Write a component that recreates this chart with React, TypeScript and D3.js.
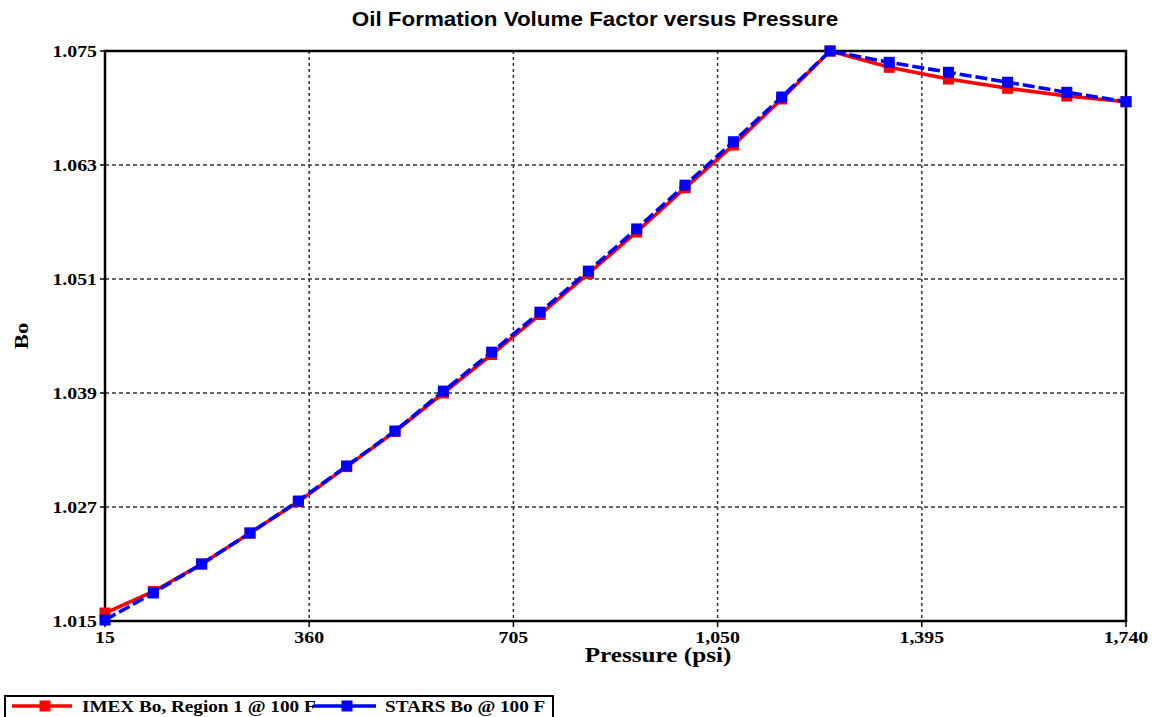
import React from "react";
import * as d3 from "d3";

// Pressure steps (psi) and formation volume factors for the two simulators
const pressure = [15, 96.7, 178.3, 260, 341.7, 423.3, 505, 586.7, 668.3, 750, 831.7, 913.3, 995, 1076.7, 1158.3, 1240, 1340, 1440, 1540, 1640, 1740];
const imexBo = [1.01584, 1.01811, 1.021, 1.02426, 1.02755, 1.03125, 1.03495, 1.039, 1.04305, 1.04726, 1.05158, 1.05595, 1.0606, 1.0651, 1.06995, 1.075, 1.07328, 1.07205, 1.07107, 1.07026, 1.06966];
const starsBo = [1.0151, 1.01795, 1.021, 1.02426, 1.02763, 1.03132, 1.035, 1.0392, 1.0433, 1.04751, 1.05183, 1.05627, 1.06088, 1.06545, 1.07016, 1.075, 1.07381, 1.07276, 1.07171, 1.07065, 1.06966];

const xTicks = [15, 360, 705, 1050, 1395, 1740];
const yTicks = [1.015, 1.027, 1.039, 1.051, 1.063, 1.075];

const seriesNames = ["IMEX Bo, Region 1 @ 100 F", "STARS Bo @ 100 F"];

const W = 1164;
const H = 717;
const left = 105, right = 1126, top = 51, bottom = 621;
const SERIF = "'Liberation Serif', 'Times New Roman', serif";
const SANS = "'Liberation Sans', Arial, sans-serif";
const SX = 1.2; // horizontal stretch applied to serif labels

function Label({ x, y, anchor = "start", size, children, rotate = 0 }: any) {
  return (
    <text
      transform={`translate(${x},${y}) rotate(${rotate}) scale(${SX},1)`}
      textAnchor={anchor}
      fontFamily={SERIF}
      fontWeight="bold"
      fontSize={size}
      fill="#000"
    >
      {children}
    </text>
  );
}

export default function App() {
  const x = d3.scaleLinear().domain([15, 1740]).range([left, right]);
  const y = d3.scaleLinear().domain([1.015, 1.075]).range([bottom, top]);
  const fmtX = d3.format(",");
  const fmtY = d3.format(".3f");

  const line = (vals: number[]) =>
    d3.line<number>().x((_, i) => x(pressure[i])).y((v) => y(v))(vals) || "";

  const ms = 11;

  return (
    <svg width={W} height={H} style={{ position: "absolute", left: 0, top: 0, background: "#fff" }}>
      <rect x={0} y={0} width={W} height={H} fill="#fff" />
      <text
        transform="translate(595,26) scale(1.15,1)"
        textAnchor="middle"
        fontFamily={SANS}
        fontWeight="bold"
        fontSize={19.5}
      >
        Oil Formation Volume Factor versus Pressure
      </text>

      {/* grid */}
      {xTicks.slice(1, -1).map((t) => (
        <line key={"gx" + t} x1={x(t)} x2={x(t)} y1={top} y2={bottom} stroke="#333" strokeWidth={1.5} strokeDasharray="3,3" />
      ))}
      {yTicks.slice(1, -1).map((t) => (
        <line key={"gy" + t} x1={left} x2={right} y1={y(t)} y2={y(t)} stroke="#333" strokeWidth={1.5} strokeDasharray="4,3" />
      ))}

      {/* ticks */}
      {xTicks.map((t) => (
        <line key={"tx" + t} x1={x(t)} x2={x(t)} y1={bottom} y2={bottom + 6} stroke="#000" strokeWidth={1.5} />
      ))}
      {yTicks.map((t) => (
        <line key={"ty" + t} x1={left - 5} x2={left} y1={y(t)} y2={y(t)} stroke="#000" strokeWidth={1.5} />
      ))}

      {/* frame */}
      <rect x={left} y={top} width={right - left} height={bottom - top} fill="none" stroke="#000" strokeWidth={2.5} />

      {/* tick labels */}
      {xTicks.map((t) => (
        <Label key={"lx" + t} x={x(t)} y={643} anchor="middle" size={16.5}>
          {fmtX(t)}
        </Label>
      ))}
      {yTicks.map((t) => (
        <Label key={"ly" + t} x={97} y={y(t) + 6} anchor="end" size={16.5}>
          {fmtY(t)}
        </Label>
      ))}

      <Label x={658} y={662} anchor="middle" size={21}>
        Pressure (psi)
      </Label>
      <Label x={28} y={336} anchor="middle" size={19} rotate={-90}>
        Bo
      </Label>

      {/* IMEX series */}
      <path d={line(imexBo)} fill="none" stroke="#ff0000" strokeWidth={3.6} />
      {imexBo.map((v, i) => (
        <rect key={"r" + i} x={x(pressure[i]) - ms / 2} y={y(v) - ms / 2} width={ms} height={ms} fill="#ff0000" />
      ))}

      {/* STARS series */}
      <path d={line(starsBo)} fill="none" stroke="#0000ff" strokeWidth={3.6} strokeDasharray="12,4" />
      {starsBo.map((v, i) => (
        <rect key={"b" + i} x={x(pressure[i]) - ms / 2} y={y(v) - ms / 2} width={ms} height={ms} fill="#0000ff" />
      ))}

      {/* legend */}
      <rect x={5} y={696} width={548} height={30} fill="#fff" stroke="#000" strokeWidth={2} />
      <line x1={12} x2={72} y1={706} y2={706} stroke="#ff0000" strokeWidth={3.6} />
      <rect x={45 - ms / 2} y={706 - ms / 2} width={ms} height={ms} fill="#ff0000" />
      <Label x={82} y={712} size={16}>
        {seriesNames[0]}
      </Label>
      <line x1={313} x2={376} y1={706} y2={706} stroke="#0000ff" strokeWidth={3.6} />
      <rect x={347 - ms / 2} y={706 - ms / 2} width={ms} height={ms} fill="#0000ff" />
      <Label x={385} y={712} size={16}>
        {seriesNames[1]}
      </Label>
    </svg>
  );
}
